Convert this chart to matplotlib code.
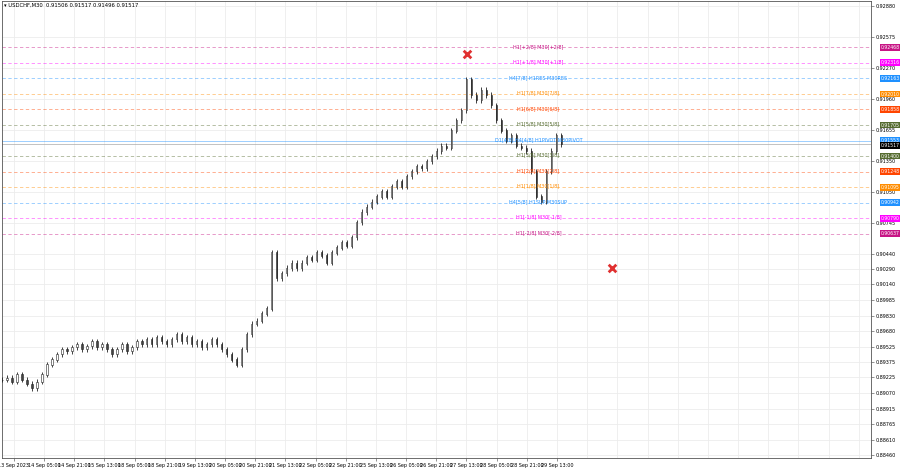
import numpy as np
import matplotlib.pyplot as plt

closes = [0.8920, 0.8922, 0.8918, 0.8925, 0.8920, 0.8916, 0.8912, 0.8918, 0.8925, 0.8935,
          0.8940, 0.8945, 0.8950, 0.8948, 0.8952, 0.8955, 0.8950, 0.8953, 0.8958, 0.8952,
          0.8955, 0.8950, 0.8945, 0.8950, 0.8955, 0.8948, 0.8952, 0.8958, 0.8955, 0.8960,
          0.8955, 0.8962, 0.8958, 0.8955, 0.8960, 0.8965, 0.8958, 0.8962, 0.8955, 0.8958,
          0.8952, 0.8955, 0.8960, 0.8955, 0.8950, 0.8945, 0.8940, 0.8935, 0.8950, 0.8965,
          0.8975, 0.8978, 0.8985, 0.8990, 0.9045, 0.9020, 0.9025, 0.9030, 0.9035, 0.9030,
          0.9035, 0.9040, 0.9038, 0.9045, 0.9042, 0.9035, 0.9045, 0.9050, 0.9055, 0.9052,
          0.9060, 0.9075, 0.9085, 0.9090, 0.9095, 0.9100, 0.9105, 0.9100, 0.9110, 0.9115,
          0.9110, 0.9120, 0.9125, 0.9130, 0.9128, 0.9135, 0.9140, 0.9145, 0.9150, 0.9148,
          0.9165, 0.9175, 0.9185, 0.9215, 0.9200, 0.9195, 0.9205, 0.9200, 0.9190, 0.9175,
          0.9165, 0.9155, 0.9160, 0.9150, 0.9148, 0.9145, 0.9125, 0.9100, 0.9095, 0.9125,
          0.9145, 0.9160, 0.91517]

level_names = ["H1[+2/8] M30[+2/8]", "H1[+1/8] M30[+1/8]", "H4[7/8] H1RES M30RES",
               "H1[7/8] M30[7/8]", "H1[6/8] M30[6/8]", "H1[5/8] M30[5/8]",
               "D1[4/8] H4[4/8] H1PIVOT M30PIVOT", "H1[3/8] M30[3/8]", "H1[2/8] M30[2/8]",
               "H1[1/8] M30[1/8]", "H4[5/8] H1SUP M30SUP", "H1[-1/8] M30[-1/8]",
               "H1[-2/8] M30[-2/8]"]
level_prices = [0.92468, 0.92316, 0.92163, 0.92010, 0.91858, 0.91705, 0.91553,
                0.91400, 0.91248, 0.91095, 0.90942, 0.90790, 0.90637]
level_colors = ["#c71585", "#ff00ff", "#1e90ff", "#ff8c00", "#ff4500", "#556b2f",
                "#1e90ff", "#556b2f", "#ff4500", "#ff8c00", "#1e90ff", "#ff00ff", "#c71585"]

date_labels = ["13 Sep 2023", "14 Sep 05:00", "14 Sep 21:00", "15 Sep 13:00", "18 Sep 05:00",
               "18 Sep 21:00", "19 Sep 13:00", "20 Sep 05:00", "20 Sep 21:00", "21 Sep 13:00",
               "22 Sep 05:00", "22 Sep 21:00", "25 Sep 13:00", "26 Sep 05:00", "26 Sep 21:00",
               "27 Sep 13:00", "28 Sep 05:00", "28 Sep 21:00", "29 Sep 13:00"]
price_ticks = [0.92880, 0.92575, 0.92270, 0.91960, 0.91655, 0.91350, 0.91050, 0.90745,
               0.90440, 0.90290, 0.90140, 0.89985, 0.89830, 0.89680, 0.89525, 0.89375,
               0.89225, 0.89070, 0.88915, 0.88765, 0.88610, 0.88460]
cross_x = [466, 611]
cross_y = [0.92402, 0.90297]
last_price = 0.91517

fig = plt.figure(figsize=(9, 4.68), dpi=100)
ax = fig.add_axes([0.002, 0.022, 0.966, 0.976])
ax.set_xlim(0, 870)
ax.set_ylim(0.88435, 0.92925)

# grid
for gx in np.arange(12, 870, 30.2):
    ax.axvline(gx, color="#ececec", lw=0.6, zorder=0)
for gy in price_ticks:
    ax.axhline(gy, color="#ececec", lw=0.6, zorder=0)

# candles
step = 5
opens = [closes[0]] + closes[:-1]
for i, (o, c) in enumerate(zip(opens, closes)):
    x = i * step
    hi = max(o, c) + 0.00025
    lo = min(o, c) - 0.00025
    ax.vlines(x, lo, hi, color="#222222", lw=0.6, zorder=3)
    ax.bar(x, abs(c - o) + 0.00003, bottom=min(o, c), width=1.6,
           color="white" if c >= o else "#444444", edgecolor="#222222", lw=0.4, zorder=4)

# murrey levels
for name, p, col in zip(level_names, level_prices, level_colors):
    ls = "-" if "PIVOT" in name else (0, (4, 3))
    ax.axhline(p, color=col, lw=0.6, ls=ls, alpha=0.5, zorder=1)
    ax.text(537, p + 0.0001, name, color=col, fontsize=3.5, ha="center", va="center", zorder=5)
    ax.text(1.011, p, f"{p:.5f}", transform=ax.get_yaxis_transform(), fontsize=3.3,
            color="white", va="center", ha="left",
            bbox=dict(boxstyle="square,pad=0.2", fc=col, ec="none"), clip_on=False)

ax.axhline(last_price, color="#aaaaaa", lw=0.5, zorder=1)
ax.text(1.011, last_price - 0.0001, f"{last_price:.5f}", transform=ax.get_yaxis_transform(),
        fontsize=3.3, color="white", va="center", ha="left",
        bbox=dict(boxstyle="square,pad=0.2", fc="black", ec="none"), clip_on=False)

ax.scatter(cross_x, cross_y, marker="x", s=30, color="#e03030", lw=2, zorder=6)

ax.yaxis.tick_right()
ax.set_yticks(price_ticks)
ax.set_yticklabels([f"{t:.5f}" for t in price_ticks], fontsize=3.5)
ax.set_xticks(12 + 30.2 * np.arange(len(date_labels)))
ax.set_xticklabels(date_labels, fontsize=3.5)
ax.tick_params(length=2, width=0.5, pad=1.5, color="#666666")
for s in ax.spines.values():
    s.set_linewidth(0.6)
    s.set_color("#555555")

ax.text(0.003, 0.995, "\u25be USDCHF,M30  0.91506 0.91517 0.91496 0.91517", transform=ax.transAxes,
        fontsize=3.8, va="top", ha="left")

fig.savefig("out.png", dpi=100)
